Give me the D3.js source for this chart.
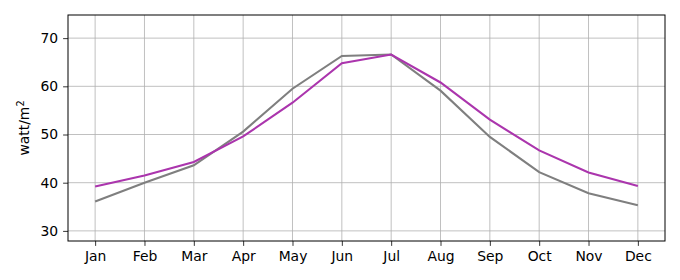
<!DOCTYPE html>
<html><head><meta charset="utf-8">
<script src="https://cdn.jsdelivr.net/npm/d3@7"></script>
<style>body{margin:0;background:#fff}svg{display:block}</style>
</head><body>
<script>
const months = ["Jan","Feb","Mar","Apr","May","Jun","Jul","Aug","Sep","Oct","Nov","Dec"];
const grayValues = [36.1,40.0,43.6,50.6,59.5,66.3,66.6,59.1,49.5,42.2,37.8,35.3];
const purpleValues = [39.2,41.5,44.3,49.6,56.6,64.8,66.6,60.8,53.1,46.7,42.1,39.3];
const yTicks = [30,40,50,60,70];

const W=680,H=280;
const m={l:68,r:15,t:15,b:39};
const svg=d3.select("body").append("svg").attr("width",W).attr("height",H);
const x=d3.scaleLinear().domain([-0.55,11.55]).range([m.l,W-m.r]);
const y=d3.scaleLinear().domain([27.9,74.8]).range([H-m.b,m.t]);
const font="DejaVu Sans, sans-serif";

const g=svg.append("g");
g.selectAll(".gx").data(months).join("line")
 .attr("x1",(d,i)=>x(i)).attr("x2",(d,i)=>x(i)).attr("y1",m.t).attr("y2",H-m.b)
 .attr("stroke","#b0b0b0").attr("stroke-width",0.8);
g.selectAll(".gy").data(yTicks).join("line")
 .attr("x1",m.l).attr("x2",W-m.r).attr("y1",d=>y(d)).attr("y2",d=>y(d))
 .attr("stroke","#b0b0b0").attr("stroke-width",0.8);

const line=d3.line().x((d,i)=>x(i)).y(d=>y(d));
svg.append("path").datum(grayValues).attr("d",line).attr("fill","none")
 .attr("stroke","#7f7f7f").attr("stroke-width",2.1);
svg.append("path").datum(purpleValues).attr("d",line).attr("fill","none")
 .attr("stroke","#ab35ad").attr("stroke-width",2.1);

const xa=svg.append("g").attr("transform",`translate(0,${H-m.b})`)
 .call(d3.axisBottom(x).tickValues(d3.range(12)).tickFormat(i=>months[i]).tickSize(4.9).tickPadding(4.9));
const ya=svg.append("g").attr("transform",`translate(${m.l},0)`)
 .call(d3.axisLeft(y).tickValues(yTicks).tickSize(4.9).tickPadding(4.9));
[xa,ya].forEach(a=>{a.select(".domain").remove();
 a.selectAll("text").attr("font-family",font).attr("font-size",13.9).attr("fill","#000");
 a.selectAll("line").attr("stroke","#000").attr("stroke-width",0.8);});

svg.append("rect").attr("x",m.l).attr("y",m.t).attr("width",W-m.r-m.l).attr("height",H-m.b-m.t)
 .attr("fill","none").attr("stroke","#000").attr("stroke-width",1);

const yl=svg.append("text").attr("transform",`translate(29,${(m.t+H-m.b)/2}) rotate(-90)`)
 .attr("text-anchor","middle").attr("font-family",font).attr("font-size",13.9).attr("fill","#000");
yl.append("tspan").text("watt/m");
yl.append("tspan").attr("dy",-5).attr("font-size",9.7).text("2");
</script>
</body></html>
